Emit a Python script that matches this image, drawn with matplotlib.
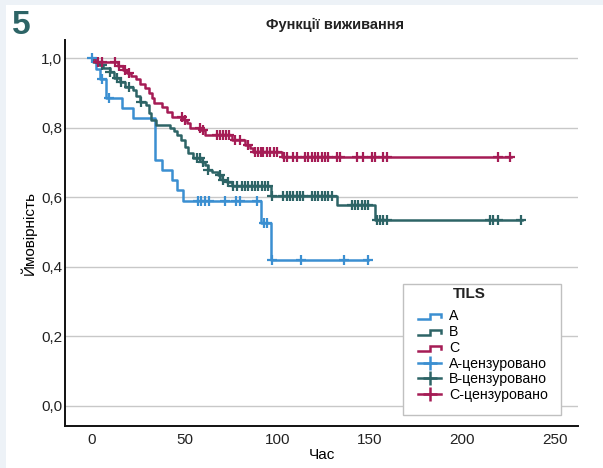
import matplotlib
matplotlib.use("Agg")
import matplotlib.pyplot as plt
import numpy as np
from matplotlib.legend_handler import HandlerBase
from matplotlib.lines import Line2D
from matplotlib.patches import Rectangle

# --- дані, зчитані з рисунку ---
A_time = [0, 2, 4.5, 7.5, 16, 22, 34, 38, 43, 46, 49, 91, 96.7, 149]
A_surv = [1.0, 0.97, 0.94, 0.885, 0.856, 0.828, 0.707, 0.678, 0.65, 0.62, 0.59, 0.526, 0.42, 0.42]
A_cens = [0, 5.5, 9, 57, 59, 61, 63, 72, 78, 80, 89, 93, 94.5, 97, 113, 136, 149]

B_time = [0, 0.5, 4, 6, 9.5, 12, 15, 18, 22, 24, 26, 29, 30.5, 32, 34.5, 42, 44, 46, 48, 50,
          52, 54.5, 59.5, 61, 62.5, 65, 68, 70, 73, 75.5, 96.6, 132, 153, 232]
B_surv = [1.0, 0.989, 0.98, 0.971, 0.96, 0.943, 0.931, 0.917, 0.908, 0.89, 0.874, 0.866, 0.843,
          0.822, 0.807, 0.799, 0.79, 0.78, 0.765, 0.745, 0.728, 0.713, 0.701, 0.693, 0.678, 0.672,
          0.664, 0.65, 0.644, 0.632, 0.605, 0.577, 0.535, 0.535]
B_cens = [5.4, 9.7, 13.5, 15.5, 20, 26.5, 56.7, 58.3, 60, 62.6, 69, 70.7, 73.4, 76, 78.3, 81,
          82.6, 84, 86.4, 88, 89.6, 91.8, 93.4, 95, 97.2, 103, 105.3, 107, 108.5, 110.7, 112.3,
          114, 118.8, 120.4, 122, 124.2, 125.8, 127.4, 129.6, 140.4, 142, 143.6, 145.8, 147.4,
          149, 153.9, 155.5, 157.1, 159.3, 215, 216.5, 219.2, 231.6]

C_time = [0, 1.5, 14, 16.5, 19, 21, 23.5, 26, 28.5, 30.5, 32.5, 33.5, 38, 40.5, 43, 49.5, 51.5,
          53, 58.5, 61, 75.6, 82.6, 85.3, 87, 102.6, 226]
C_surv = [1.0, 0.989, 0.977, 0.966, 0.957, 0.948, 0.94, 0.925, 0.914, 0.9, 0.885, 0.87, 0.86,
          0.845, 0.83, 0.822, 0.813, 0.80, 0.793, 0.779, 0.764, 0.75, 0.741, 0.73, 0.716, 0.716]
C_cens = [3, 5.5, 12.4, 14.5, 18, 20, 48.5, 50, 58.3, 60, 67.5, 69, 70.7, 72.6, 74, 77, 80, 84,
          88, 89.5, 91, 92.5, 94.5, 96, 98, 100, 103.5, 105.3, 108.5, 110.7, 115, 116.6, 118.8,
          120.4, 122, 124.2, 125.8, 127.4, 132.3, 133.9, 143, 146.3, 151.2, 152.8, 157, 159.3,
          219.2, 225.7]

group_names = ["А", "В", "С"]
xticks = [0, 50, 100, 150, 200, 250]
yticks = [0.0, 0.2, 0.4, 0.6, 0.8, 1.0]
yticklabels = ["0,0", "0,2", "0,4", "0,6", "0,8", "1,0"]

colors = ["#3b8fd1", "#2d6466", "#a51c55"]
FONT = ["Liberation Sans Narrow", "Liberation Sans", "DejaVu Sans"]


class StepHandler(HandlerBase):
    # значок сходинки, як у легенді SPSS
    def create_artists(self, legend, orig_handle, xdescent, ydescent, width, height, fontsize, trans):
        w, h = width, height
        xs = [-xdescent, 0.52 * w, 0.52 * w, w, w]
        ys = [0.1 * h, 0.1 * h, 0.62 * h, 0.62 * h, 0.3 * h]
        ln = Line2D(xs, ys, color=orig_handle.get_color(), lw=orig_handle.get_linewidth(),
                    solid_joinstyle="miter", transform=trans)
        return [ln]


def step_value(times, surv, t):
    idx = np.searchsorted(times, t, side="right") - 1
    return np.asarray(surv)[idx]


def main():
    plt.rcParams["font.family"] = FONT
    fig = plt.figure(figsize=(6.03, 4.68), dpi=100, facecolor="#edf2f7")
    fig.patches.append(Rectangle((6 / 603, 0), 1, 1 - 5 / 468, transform=fig.transFigure,
                                 facecolor="white", edgecolor="none", zorder=-10))

    # осі: 65..578 px по x, 40..426 px по y
    ax = fig.add_axes([65 / 603, 1 - 426 / 468, 513 / 603, 386 / 468])
    ax.set_zorder(2)
    ax.set_facecolor("white")

    series = [(A_time, A_surv, A_cens), (B_time, B_surv, B_cens), (C_time, C_surv, C_cens)]
    step_handles = []
    cens_handles = []
    for (t, s, c), col in zip(series, colors):
        ln, = ax.step(t, s, where="post", color=col, lw=1.8, zorder=3)
        ax.plot(c, step_value(t, s, c), linestyle="none", marker="+", markersize=7,
                markeredgewidth=1.6, color=col, zorder=4)
        step_handles.append(ln)
        cens_handles.append(Line2D([], [], linestyle="-", lw=1.8, marker="+", markersize=10,
                                   markeredgewidth=1.8, color=col))

    ax.set_xlim(-14.6, 262.4)
    ax.set_ylim(-0.0575, 1.052)
    ax.set_xticks(xticks)
    ax.set_yticks(yticks)
    ax.set_yticklabels(yticklabels)
    ax.tick_params(axis="both", length=0, labelsize=11, colors="#222222")
    ax.tick_params(axis="x", pad=5)
    ax.tick_params(axis="y", pad=2)
    ax.grid(axis="y", color="#c8c8c8", lw=1)
    ax.set_axisbelow(True)
    for sp in ["top", "right"]:
        ax.spines[sp].set_visible(False)
    for sp in ["left", "bottom"]:
        ax.spines[sp].set_linewidth(1.4)
        ax.spines[sp].set_color("#111111")

    ax.set_xlabel("Час", fontsize=11, labelpad=1)
    ax.set_ylabel("Ймовірність", fontsize=11, labelpad=3)

    # рамка легенди окремим прямокутником
    ax.add_patch(Rectangle((0.659, 0.0285), 0.308, 0.3395, transform=ax.transAxes,
                           facecolor="white", edgecolor="#c0c0c0", lw=1.0, zorder=5))
    ax.text(0.789, 0.342, "TILS", transform=ax.transAxes, ha="center", va="center",
            fontsize=11, fontweight="bold", color="#222222", zorder=6)

    labels = group_names + [n + "-цензуровано" for n in group_names]
    handler_map = {h: StepHandler() for h in step_handles}
    leg = ax.legend(step_handles + cens_handles, labels, handler_map=handler_map,
                    loc="upper left", bbox_to_anchor=(0.688, 0.302), fontsize=10.2,
                    frameon=False, handlelength=1.65, handletextpad=0.55,
                    labelspacing=0.12, borderpad=0, borderaxespad=0)
    leg.set_zorder(7)

    fig.text(335 / 603, 1 - 25 / 468, "Функції виживання", ha="center", va="center",
             fontsize=10.5, fontweight="bold", color="#222222")
    fig.text(12 / 603, 1 - 25 / 468, "5", ha="left", va="center", fontsize=24,
             fontweight="bold", color="#2d6466", family=["Liberation Sans", "DejaVu Sans"])

    fig.savefig("out.png", dpi=100, facecolor=fig.get_facecolor())


if __name__ == "__main__":
    main()
